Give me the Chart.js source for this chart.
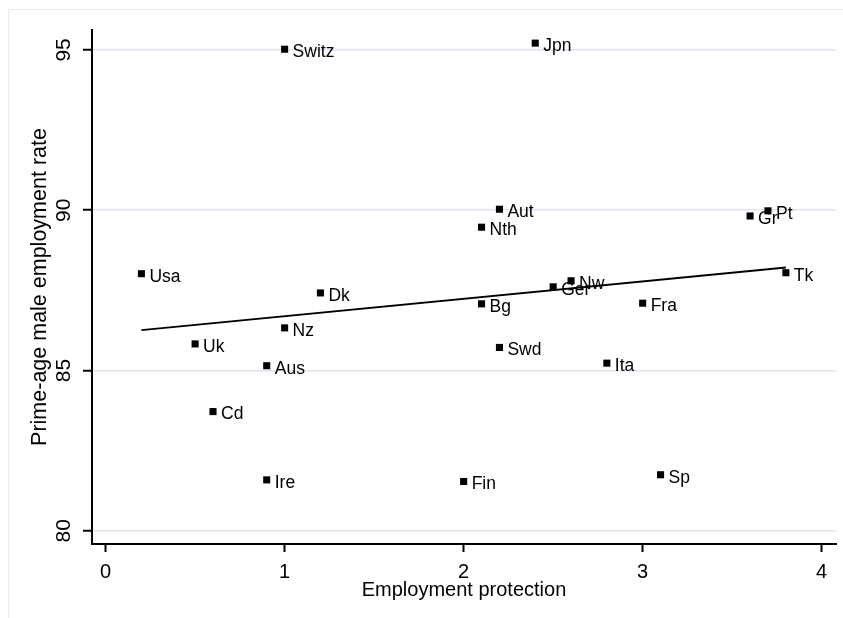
<!DOCTYPE html>
<html>
<head>
<meta charset="utf-8">
<script src="https://cdn.jsdelivr.net/npm/chart.js@4.4.1/dist/chart.umd.min.js"></script>
<style>
  html, body { margin: 0; padding: 0; background: #fff; }
  canvas { display: block; }
</style>
</head>
<body>
<canvas id="epChart" width="843" height="618"></canvas>
<script>
// country data
const countries     = ['Switz', 'Jpn', 'Aut', 'Nth', 'Usa', 'Dk', 'Ger', 'Nw', 'Gr', 'Pt', 'Tk',
                       'Bg', 'Fra', 'Nz', 'Uk', 'Aus', 'Swd', 'Ita', 'Cd', 'Ire', 'Fin', 'Sp'];
const empProtection = [1.0, 2.4, 2.2, 2.1, 0.2, 1.2, 2.5, 2.6, 3.6, 3.7, 3.8,
                       2.1, 3.0, 1.0, 0.5, 0.9, 2.2, 2.8, 0.6, 0.9, 2.0, 3.1];
const empRate       = [95.02, 95.21, 90.03, 89.47, 88.02, 87.42, 87.61, 87.80, 89.82, 89.98, 88.05,
                       87.08, 87.10, 86.33, 85.83, 85.15, 85.72, 85.23, 83.72, 81.59, 81.54, 81.75];

// fitted line end points
const fitX = [0.2, 3.8];
const fitY = [86.26, 88.21];

const xTicks = [0, 1, 2, 3, 4];
const yTicks = [80, 85, 90, 95];

const FONT = '"Liberation Sans", Arial, sans-serif';

const annotatePlugin = {
  id: 'annotate',
  beforeDraw(chart) {
    const ctx = chart.ctx;
    ctx.save();
    ctx.fillStyle = '#fff';
    ctx.fillRect(0, 0, chart.width, chart.height);
    ctx.strokeStyle = '#e8ebf1';
    ctx.lineWidth = 1;
    ctx.strokeRect(8.5, 9.5, chart.width, chart.height);
    ctx.restore();
  },
  afterDraw(chart) {
    const ctx = chart.ctx;
    const yScale = chart.scales.y;
    const area = chart.chartArea;
    ctx.save();
    ctx.fillStyle = '#000';
    ctx.textAlign = 'center';
    ctx.textBaseline = 'middle';

    // rotated y tick labels
    ctx.font = '21px ' + FONT;
    yTicks.forEach(v => {
      ctx.save();
      ctx.translate(64, yScale.getPixelForValue(v));
      ctx.rotate(-Math.PI / 2);
      ctx.fillText(String(v), 0, 0);
      ctx.restore();
    });

    // y title
    ctx.save();
    ctx.font = '21.5px ' + FONT;
    ctx.translate(40, (area.top + area.bottom) / 2);
    ctx.rotate(-Math.PI / 2);
    ctx.fillText('Prime-age male employment rate', 0, 0);
    ctx.restore();

    // marker labels
    const meta = chart.getDatasetMeta(0);
    ctx.font = '17.5px ' + FONT;
    ctx.textAlign = 'left';
    meta.data.forEach((pt, i) => {
      ctx.fillText(countries[i], pt.x + 8, pt.y + 3);
    });
    ctx.restore();
  }
};

new Chart(document.getElementById('epChart'), {
  type: 'scatter',
  data: {
    datasets: [
      {
        label: 'Countries',
        data: countries.map((c, i) => ({ x: empProtection[i], y: empRate[i] })),
        pointStyle: 'rect',
        pointRadius: 5,
        backgroundColor: '#000',
        borderColor: '#000',
        borderWidth: 0
      },
      {
        type: 'line',
        label: 'Fit',
        data: fitX.map((x, i) => ({ x: x, y: fitY[i] })),
        borderColor: '#000',
        borderWidth: 2,
        pointRadius: 0,
        fill: false,
        tension: 0
      }
    ]
  },
  options: {
    responsive: false,
    animation: false,
    layout: { padding: { left: 0, top: 30, right: 7, bottom: 0 } },
    plugins: {
      legend: { display: false },
      tooltip: { enabled: false }
    },
    scales: {
      x: {
        type: 'linear',
        min: -0.076,
        max: 4.08,
        afterBuildTicks: s => { s.ticks = xTicks.map(v => ({ value: v })); },
        afterFit: s => { s.height = 74; },
        ticks: {
          color: '#000',
          font: { family: FONT, size: 20 },
          padding: 8,
          maxRotation: 0
        },
        grid: {
          drawOnChartArea: false,
          drawTicks: true,
          tickLength: 8,
          tickWidth: 2,
          tickColor: '#000'
        },
        border: { display: true, color: '#000', width: 2 },
        title: {
          display: true,
          text: 'Employment protection',
          color: '#000',
          font: { family: FONT, size: 20 },
          padding: { top: 0, bottom: 16 }
        }
      },
      y: {
        type: 'linear',
        min: 79.59,
        max: 95.62,
        afterBuildTicks: s => { s.ticks = yTicks.map(v => ({ value: v })); },
        afterFit: s => { s.width = 92; },
        ticks: { display: false },
        grid: {
          color: '#dfe4f1',
          lineWidth: 1.5,
          drawTicks: true,
          tickLength: 9,
          tickWidth: 2,
          tickColor: '#000'
        },
        border: { display: true, color: '#000', width: 2 }
      }
    }
  },
  plugins: [annotatePlugin]
});
</script>
</body>
</html>
